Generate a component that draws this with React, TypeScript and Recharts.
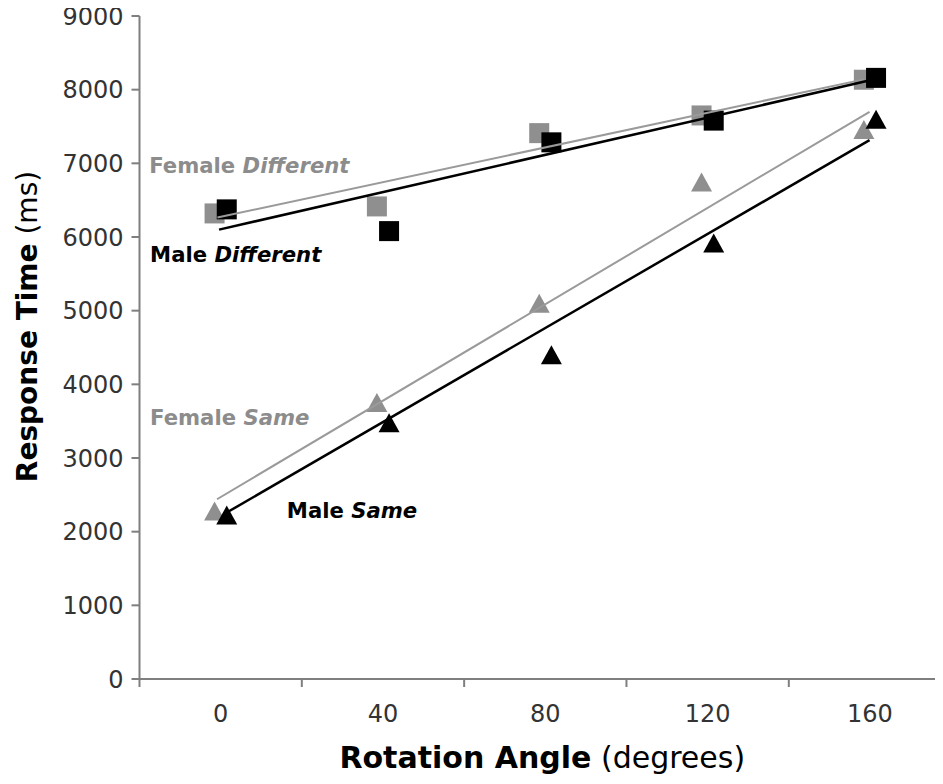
import React from "react";
import { ComposedChart, XAxis, YAxis, Scatter, Label } from "recharts";

// ---- data ----
const femaleX = [-1.5, 38.5, 78.5, 118.5, 158.5];
const maleX = [1.5, 41.5, 81.5, 121.5, 161.5];
const femaleDifferent = [6320, 6415, 7410, 7650, 8135];
const maleDifferent = [6375, 6080, 7285, 7580, 8160];
const femaleSame = [2280, 3755, 5100, 6745, 7460];
const maleSame = [2225, 3480, 4400, 5920, 7600];

const trendFemaleDiffX = [-0.8, 158.5];
const trendFemaleDiffY = [6265, 8140];
const trendMaleDiffX = [-0.4, 159.5];
const trendMaleDiffY = [6100, 8120];
const trendFemaleSameX = [-0.9, 159.9];
const trendFemaleSameY = [2440, 7700];
const trendMaleSameX = [1.2, 159.9];
const trendMaleSameY = [2250, 7315];

const angleLabels = [0, 40, 80, 120, 160];
const boundaryTicks = [-20, 20, 60, 100, 140];
const yTicks = [0, 1000, 2000, 3000, 4000, 5000, 6000, 7000, 8000, 9000];

const annotations = [
  { x: -17.6, y: 6868, a: "Female ", b: "Different", color: "#8c8c8c" },
  { x: -17.4, y: 5660, a: "Male ", b: "Different", color: "#000000" },
  { x: -17.4, y: 3448, a: "Female ", b: "Same", color: "#8c8c8c" },
  { x: 16.3, y: 2185, a: "Male ", b: "Same", color: "#000000" },
];

const toPoints = (xs: number[], ys: number[]) => xs.map((x, i) => ({ x, y: ys[i] }));

const GRAY = "#8f8f8f";
const AXIS = "#7f7f7f";
const FONT = "'DejaVu Sans', Verdana, sans-serif";

const SquareShape = (color: string) => (p: any) => {
  const { cx, cy } = p;
  if (cx == null || cy == null) return <g />;
  return <rect x={cx - 10} y={cy - 10} width={20} height={20} fill={color} />;
};

const TriangleShape = (color: string) => (p: any) => {
  const { cx, cy } = p;
  if (cx == null || cy == null) return <g />;
  return (
    <polygon
      points={`${cx},${cy - 9.5} ${cx + 10.5},${cy + 9.5} ${cx - 10.5},${cy + 9.5}`}
      fill={color}
    />
  );
};

const NoShape = () => <g />;

const AnnotationShape = (p: any) => {
  const { cx, cy, payload } = p;
  if (cx == null || cy == null) return <g />;
  return (
    <text x={cx} y={cy} fill={payload.color} fontFamily={FONT} fontSize={21.2} fontWeight="bold">
      <tspan>{payload.a}</tspan>
      <tspan fontStyle="italic">{payload.b}</tspan>
    </text>
  );
};

const XTick = (props: any) => {
  const { x, y, payload } = props;
  const v = payload.value;
  if (boundaryTicks.includes(v)) {
    return <line x1={x} x2={x} y1={y} y2={y + 8} stroke={AXIS} strokeWidth={2} />;
  }
  return (
    <text x={x} y={y + 43} textAnchor="middle" fill="#333" fontFamily={FONT} fontSize={24}>
      {v}
    </text>
  );
};

const XTitle = (props: any) => {
  const vb = props.viewBox;
  const cx = vb.x + vb.width / 2 + 1;
  return (
    <text x={cx} y={vb.y + 89} textAnchor="middle" fill="#000" fontFamily={FONT} fontSize={30}>
      <tspan fontWeight="bold">Rotation Angle</tspan>
      <tspan> (degrees)</tspan>
    </text>
  );
};

const YTitle = (props: any) => {
  const vb = props.viewBox;
  const x = 37;
  const y = vb.y + vb.height / 2 - 21;
  return (
    <text
      x={x}
      y={y}
      textAnchor="middle"
      fill="#000"
      fontFamily={FONT}
      fontSize={28}
      transform={`rotate(-90, ${x}, ${y})`}
    >
      <tspan fontWeight="bold">Response Time</tspan>
      <tspan> (ms)</tspan>
    </text>
  );
};

export default function App() {
  const xTicks = [...boundaryTicks, ...angleLabels].sort((a, b) => a - b);
  return (
    <div style={{ margin: -8, width: 943, height: 784, background: "#fff" }}>
      <ComposedChart
        width={943}
        height={784}
        margin={{ top: 16, right: 0, bottom: 0, left: 0 }}
      >
        <XAxis
          type="number"
          dataKey="x"
          domain={[-20, 178]}
          allowDataOverflow
          ticks={xTicks}
          interval={0}
          tickLine={false}
          tickSize={0}
          tickMargin={0}
          tick={<XTick />}
          axisLine={{ stroke: AXIS, strokeWidth: 2 }}
          height={105}
        >
          <Label content={<XTitle />} />
        </XAxis>
        <YAxis
          type="number"
          dataKey="y"
          domain={[0, 9000]}
          ticks={yTicks}
          interval={0}
          width={139.5}
          tickSize={8}
          tickMargin={8}
          tickLine={{ stroke: AXIS, strokeWidth: 2 }}
          axisLine={{ stroke: AXIS, strokeWidth: 2 }}
          tick={{ fill: "#333", fontFamily: FONT, fontSize: 24 }}
        >
          <Label content={<YTitle />} />
        </YAxis>

        <Scatter data={toPoints(femaleX, femaleDifferent)} shape={SquareShape(GRAY)} isAnimationActive={false} />
        <Scatter data={toPoints(maleX, maleDifferent)} shape={SquareShape("#000")} isAnimationActive={false} />
        <Scatter data={toPoints(femaleX, femaleSame)} shape={TriangleShape(GRAY)} isAnimationActive={false} />
        <Scatter data={toPoints(maleX, maleSame)} shape={TriangleShape("#000")} isAnimationActive={false} />

        <Scatter
          data={toPoints(trendFemaleDiffX, trendFemaleDiffY)}
          shape={NoShape}
          line={{ stroke: "#9a9a9a", strokeWidth: 2 }}
          isAnimationActive={false}
        />
        <Scatter
          data={toPoints(trendMaleDiffX, trendMaleDiffY)}
          shape={NoShape}
          line={{ stroke: "#000", strokeWidth: 2.5 }}
          isAnimationActive={false}
        />
        <Scatter
          data={toPoints(trendFemaleSameX, trendFemaleSameY)}
          shape={NoShape}
          line={{ stroke: "#9a9a9a", strokeWidth: 2 }}
          isAnimationActive={false}
        />
        <Scatter
          data={toPoints(trendMaleSameX, trendMaleSameY)}
          shape={NoShape}
          line={{ stroke: "#000", strokeWidth: 2.5 }}
          isAnimationActive={false}
        />

        <Scatter data={annotations} shape={AnnotationShape} isAnimationActive={false} />
      </ComposedChart>
    </div>
  );
}
